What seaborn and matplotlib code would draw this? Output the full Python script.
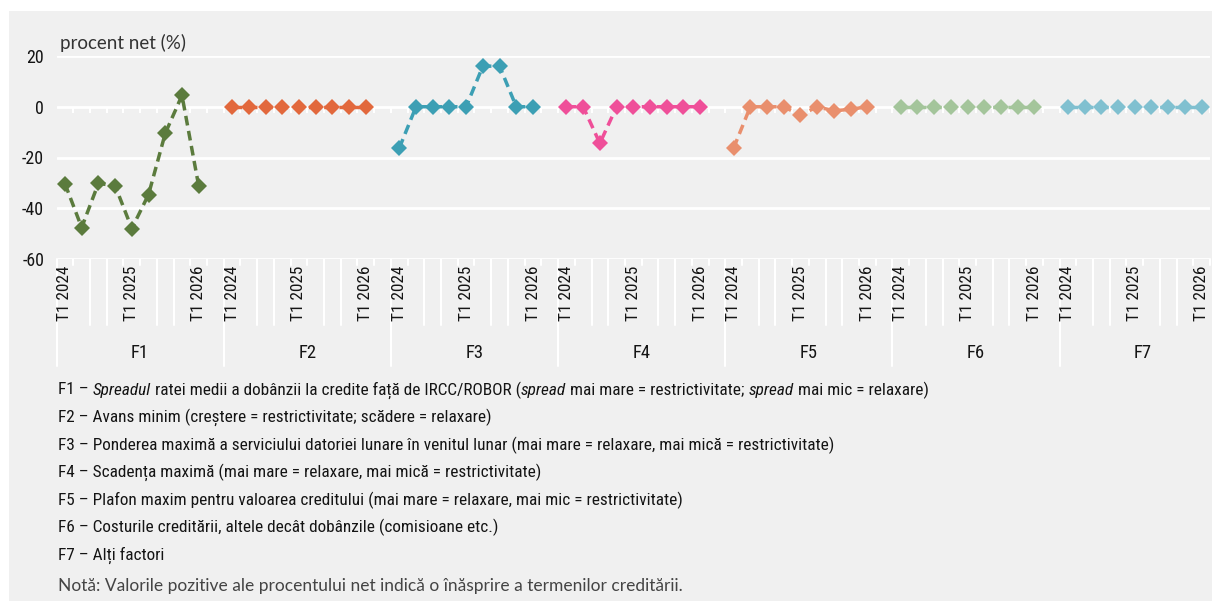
import pandas as pd
import seaborn as sns
import matplotlib.pyplot as plt
from matplotlib import font_manager as fm
from matplotlib.patches import Rectangle
from matplotlib.transforms import blended_transform_factory

# --- data ---
factors = ['F1', 'F2', 'F3', 'F4', 'F5', 'F6', 'F7']
quarters = ['T1 2024', 'T2 2024', 'T3 2024', 'T4 2024',
            'T1 2025', 'T2 2025', 'T3 2025', 'T4 2025',
            'T1 2026', 'T2 2026']
f1 = [-30.3, -47.6, -30.2, -31.1, -48.0, -34.6, -10.5, 4.5, -31.2]
f2 = [0, 0, 0, 0, 0, 0, 0, 0, 0]
f3 = [-16.3, 0, 0, 0, 0, 16.0, 16.0, 0, 0]
f4 = [0, 0, -14.4, 0, 0, 0, 0, 0, 0]
f5 = [-16.3, 0, 0, 0, -3.3, 0, -1.6, -1.0, 0]
f6 = [0, 0, 0, 0, 0, 0, 0, 0, 0]
f7 = [0, 0, 0, 0, 0, 0, 0, 0, 0]
series = [f1, f2, f3, f4, f5, f6, f7]
colors = ['#5b7b3d', '#e2683c', '#3c9fb4', '#ef4f99', '#e98f6d', '#a4c59b', '#80c0d0']

legend_lines = [
    [('F1 – ', 'normal'), ('Spreadul', 'italic'),
     (' ratei medii a dobânzii la credite față de IRCC/ROBOR (', 'normal'),
     ('spread', 'italic'), (' mai mare = restrictivitate; ', 'normal'),
     ('spread', 'italic'), (' mai mic = relaxare)', 'normal')],
    [('F2 – Avans minim (creștere = restrictivitate; scădere = relaxare)', 'normal')],
    [('F3 – Ponderea maximă a serviciului datoriei lunare în venitul lunar '
      '(mai mare = relaxare, mai mică = restrictivitate)', 'normal')],
    [('F4 – Scadența maximă (mai mare = relaxare, mai mică = restrictivitate)', 'normal')],
    [('F5 – Plafon maxim pentru valoarea creditului (mai mare = relaxare, '
      'mai mic = restrictivitate)', 'normal')],
    [('F6 – Costurile creditării, altele decât dobânzile (comisioane etc.)', 'normal')],
    [('F7 – Alți factori', 'normal')],
]
note = 'Notă: Valorile pozitive ale procentului net indică o înăsprire a termenilor creditării.'
ylabel = 'procent net (%)'


def pick_condensed():
    entries = fm.fontManager.ttflist
    names = {e.name for e in entries}
    for p in ['Liberation Sans Narrow', 'Roboto Condensed', 'Open Sans Condensed',
              'Noto Sans Condensed', 'DejaVu Sans Condensed']:
        if p in names:
            return p, 'normal'
    for fam in ['Noto Sans', 'Roboto', 'Open Sans', 'DejaVu Sans', 'Lato', 'Inter']:
        for e in entries:
            if e.name == fam and e.stretch in ('condensed', 'semi-condensed', 'extra-condensed'):
                return fam, 'condensed'
    for e in entries:
        if ('Condensed' in e.name or 'Narrow' in e.name) and 'CJK' not in e.name:
            return e.name, 'normal'
    return 'DejaVu Sans', 'normal'


n_q = len(quarters)
rows = []
for i, (f, vals) in enumerate(zip(factors, series)):
    for j, v in enumerate(vals):
        rows.append({'factor': f, 'quarter': quarters[j], 'pos': i * n_q + j, 'value': v})
df = pd.DataFrame(rows)

sns.set_theme(style='white')
cond_family, cond_stretch = pick_condensed()
plt.rcParams['font.family'] = [cond_family, 'DejaVu Sans']
plt.rcParams['font.stretch'] = cond_stretch
plt.rcParams['axes.unicode_minus'] = False
PLAIN = ['Lato', 'Liberation Sans', 'DejaVu Sans']

W, H = 1214, 603
BG = '#f0f0f0'
TXT = '#141414'

fig = plt.figure(figsize=(W / 100, H / 100), dpi=100)
fig.patch.set_facecolor('white')
fig.patches.append(Rectangle((9 / W, 1 - 601 / H), (1212 - 9) / W, (601 - 11) / H,
                             transform=fig.transFigure, facecolor=BG,
                             edgecolor='none', zorder=-10))
renderer = fig.canvas.get_renderer()

# size the condensed text so the first explanation line is as wide as in the chart
probe = 0
for txt, style in legend_lines[0]:
    t = fig.text(0, 0, txt, fontsize=12, style=style)
    probe += t.get_window_extent(renderer).width
    t.remove()
fs = min(13.5, 12 * 867 / probe)

ax_bottom, ax_top = 259, 56
ax = fig.add_axes([56.6 / W, 1 - ax_bottom / H, (1210 - 56.6) / W, (ax_bottom - ax_top) / H])
ax.set_facecolor(BG)

sns.lineplot(data=df, x='pos', y='value', hue='factor', palette=colors,
             marker='D', markersize=7.8, markeredgewidth=0, linewidth=2.5,
             linestyle='--', errorbar=None, legend=False, ax=ax, zorder=3)
for ln in ax.lines:
    ln.set_dashes((2.8, 1.6))

ax.set_xlim(-0.5, len(factors) * n_q - 1.5)
ax.set_ylim(-60, 20)
ax.set_yticks([-60, -40, -20, 0, 20])
ax.yaxis.grid(True, color='white', linewidth=2)
ax.xaxis.grid(False)
ax.set_axisbelow(True)
for s in ax.spines.values():
    s.set_visible(False)

xt = [i * n_q + j for i in range(len(factors)) for j, q in enumerate(quarters[:-1])
      if q.startswith('T1')]
ax.set_xticks(xt)
ax.set_xticklabels([quarters[p % n_q] for p in xt], rotation=90, va='top')
ax.tick_params(axis='x', length=0, pad=5, labelsize=fs, labelcolor=TXT)
ax.tick_params(axis='y', length=0, pad=9, labelsize=fs + 0.5, labelcolor=TXT)
ax.set_xlabel('')
ax.set_ylabel('')

# small ticks hanging under the zero line, between quarters
inner = [k + 0.5 for k in range(len(factors) * n_q - 1)]
ax.vlines(inner, -2.4, 0, color='white', linewidth=1.5, zorder=2)

# separators below the axis
tr = blended_transform_factory(ax.transData, fig.transFigure)
labelled = set(xt)
for k in range(-1, len(factors) * n_q - 1):
    b = k + 0.5
    if (k + 1) % n_q == 0:
        y_end = 366
    elif k in labelled or (k + 1) in labelled:
        y_end = 265
    else:
        y_end = 325
    fig.add_artist(plt.Line2D([b, b], [1 - ax_bottom / H, 1 - y_end / H], transform=tr,
                              color='white', linewidth=1.5, zorder=-5))

for i, f in enumerate(factors):
    fig.text(i * n_q + 4.5, 1 - 353 / H, f, transform=tr, ha='center', va='center',
             fontsize=fs + 1, color=TXT)

fig.text(60 / W, 1 - 43 / H, ylabel, ha='left', va='center', fontsize=13.5,
         family=PLAIN, stretch='normal', color='#333333')

# explanatory lines under the chart
y0 = 390
for n, runs in enumerate(legend_lines):
    x = 58
    y = 1 - (y0 + n * 27.5) / H
    for txt, style in runs:
        t = fig.text(x / W, y, txt, ha='left', va='center', fontsize=fs,
                     style=style, color=TXT)
        x += t.get_window_extent(renderer).width

fig.text(58 / W, 1 - 586 / H, note, ha='left', va='center', fontsize=12.5,
         family=PLAIN, stretch='normal', color='#444444')

plt.savefig('out.png', dpi=100, facecolor='white')
